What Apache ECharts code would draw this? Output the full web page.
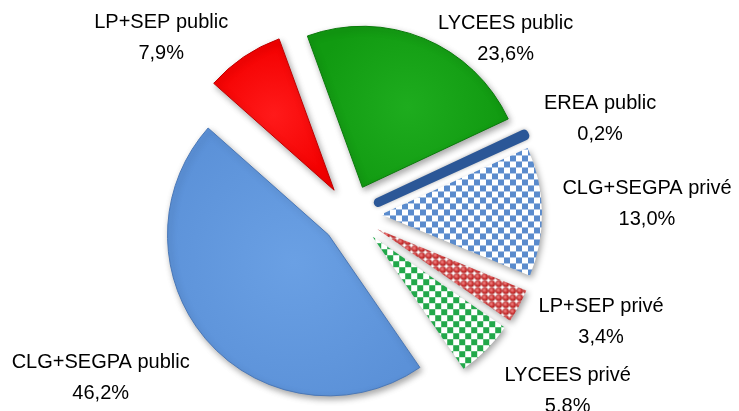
<!DOCTYPE html>
<html>
<head>
<meta charset="utf-8">
<script src="https://cdn.jsdelivr.net/npm/echarts@6/dist/echarts.min.js"></script>
<style>
html,body{margin:0;padding:0;background:#fff;}
#chart{width:739px;height:411px;}
</style>
</head>
<body>
<div id="chart"></div>
<script>
// ---- data ----
const categories = ['LYCEES public', 'EREA public', 'CLG+SEGPA privé', 'LP+SEP privé', 'LYCEES privé', 'CLG+SEGPA public', 'LP+SEP public'];
const values = [23.6, 0.2, 13.0, 3.4, 5.8, 46.2, 7.9];

// ---- label nudges (layout only) ----
const labelDx = [41, 27, 55, 34, 36, -61, -39];
const labelDy = [14, -10, -7, 9, 30, 27, -7];

// ---- patterns ----
function checker(col, size) {
  const cv = document.createElement('canvas');
  cv.width = cv.height = size * 2;
  const g = cv.getContext('2d');
  g.fillStyle = '#ffffff'; g.fillRect(0, 0, size * 2, size * 2);
  g.fillStyle = col;
  g.fillRect(0, 0, size, size);
  g.fillRect(size, size, size, size);
  return cv;
}
function dots(col, size) {
  const cv = document.createElement('canvas');
  cv.width = cv.height = size;
  const g = cv.getContext('2d');
  g.fillStyle = '#ffffff'; g.fillRect(0, 0, size, size);
  const grd = g.createRadialGradient(size * 0.38, size * 0.38, 0.3, size / 2, size / 2, size * 0.5);
  grd.addColorStop(0, '#ee8a8a'); grd.addColorStop(0.6, col); grd.addColorStop(1, '#a01c1c');
  g.fillStyle = grd;
  g.beginPath(); g.arc(size / 2, size / 2, size * 0.48, 0, Math.PI * 2); g.fill();
  return cv;
}
function radial(c1, c2) {
  return { type: 'radial', x: 0.5, y: 0.5, r: 0.6, colorStops: [{ offset: 0, color: c1 }, { offset: 1, color: c2 }] };
}

const shadow = { shadowBlur: 6, shadowOffsetX: 2, shadowOffsetY: 3, shadowColor: 'rgba(0,0,0,0.35)' };
const styles = [
  Object.assign({ color: radial('#1eac1e', '#119a11'), borderColor: '#0b7a0b', borderWidth: 1 }, shadow),
  { color: '#2b5797', borderColor: '#2b5797', borderWidth: 9, borderJoin: 'round', shadowBlur: 4, shadowColor: 'rgba(0,0,0,0.3)' },
  Object.assign({ color: { image: checker('#5a8bcd', 6), repeat: 'repeat' } }, shadow),
  Object.assign({ color: { image: dots('#cc3030', 7), repeat: 'repeat' } }, shadow),
  Object.assign({ color: { image: checker('#22a84a', 6), repeat: 'repeat' } }, shadow),
  Object.assign({ color: radial('#6aa0e4', '#5b91d8'), borderColor: '#4a78b8', borderWidth: 1 }, shadow),
  Object.assign({ color: radial('#ff1a1a', '#f40000'), borderColor: '#c00000', borderWidth: 1 }, shadow)
];

const chart = echarts.init(document.getElementById('chart'), null, { renderer: 'canvas' });
chart.setOption({
  animation: false,
  backgroundColor: '#ffffff',
  series: [{
    type: 'pie',
    center: [351, 215],
    radius: 161,
    startAngle: 110,
    clockwise: true,
    selectedMode: 'multiple',
    selectedOffset: 30,
    avoidLabelOverlap: false,
    label: {
      show: true,
      position: 'outside',
      fontFamily: '"Liberation Sans", Arial, sans-serif',
      fontSize: 20,
      lineHeight: 31,
      color: '#000',
      formatter: p => p.name + '\n' + p.value.toFixed(1).replace('.', ',') + '%'
    },
    labelLine: { show: false },
    labelLayout: function (params) {
      const i = params.dataIndex;
      return { dx: labelDx[i], dy: labelDy[i], align: 'center', verticalAlign: 'middle' };
    },
    emphasis: { disabled: true },
    data: categories.map((c, i) => ({ name: c, value: values[i], selected: true, itemStyle: styles[i] }))
  }]
});
</script>
</body>
</html>
